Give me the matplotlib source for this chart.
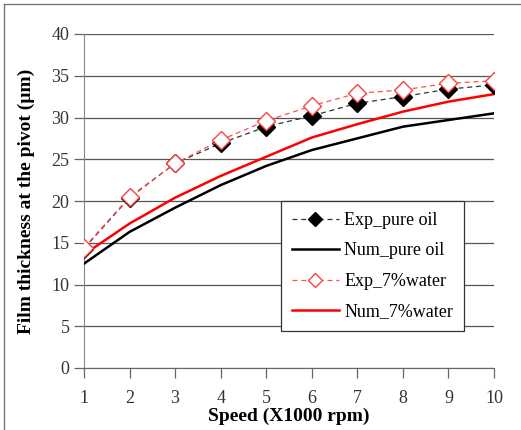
import matplotlib.pyplot as plt
from matplotlib.lines import Line2D

speed = [1, 2, 3, 4, 5, 6, 7, 8, 9, 10]
exp_oil = [14.3, 20.4, 24.5, 26.9, 28.9, 30.2, 31.7, 32.5, 33.4, 33.9]
num_oil = [12.5, 16.3, 19.2, 21.9, 24.2, 26.1, 27.5, 28.9, 29.7, 30.5]
exp_water = [14.4, 20.5, 24.5, 27.3, 29.6, 31.4, 32.9, 33.3, 34.1, 34.4]
num_water = [13.6, 17.3, 20.4, 23.0, 25.3, 27.6, 29.2, 30.7, 31.9, 32.8]

plt.rcParams['font.family'] = ['Liberation Serif', 'DejaVu Serif']

fig = plt.figure(figsize=(5.21, 4.30), dpi=100)
ax = fig.add_axes([84 / 521, 1 - 368 / 430, 410 / 521, 334 / 430])

ax.plot(speed, exp_oil, color='#333333', lw=0.9, dashes=(4, 3), marker='D',
        ms=9, mfc='black', mec='black', label='Exp_pure oil', zorder=4)
ax.plot(speed, num_oil, color='black', lw=1.8, label='Num_pure oil', zorder=3)
ax.plot(speed, exp_water, color='#ff5050', lw=0.9, dashes=(4, 3), marker='D',
        ms=9, mfc='white', mec='#ff4040', mew=1.0, label='Exp_7%water', zorder=5)
ax.plot(speed, num_water, color='#ff0000', lw=1.8, label='Num_7%water', zorder=3)

ax.set_xlim(1, 10)
ax.set_ylim(0, 40)
ax.set_xticks(range(1, 11))
ax.set_yticks(range(0, 41, 5))
ax.yaxis.grid(True, color='#555555', lw=0.9)
ax.set_axisbelow(True)
for s in ('top', 'right'):
    ax.spines[s].set_visible(False)
ax.spines['left'].set_color('#888888')
ax.spines['bottom'].set_color('#666666')
ax.tick_params(axis='both', labelsize=13, colors='#666666', labelcolor='#333333',
               length=7, width=0.9, direction='out')
ax.tick_params(axis='x', pad=9)

ax.set_ylabel('Film thickness at the pivot (µm)', fontsize=14, fontweight='bold',
              labelpad=12)
ax.set_xlabel('Speed (X1000 rpm)', fontsize=14, fontweight='bold', labelpad=0)

leg = ax.legend(loc='upper left', bbox_to_anchor=((281 - 84) / 410, (368 - 201) / 334),
                fontsize=13, frameon=True, fancybox=False, handlelength=2.6,
                labelspacing=0.75, borderpad=0.6, handletextpad=0.3,
                borderaxespad=0, markerscale=0.75)
leg.get_frame().set_edgecolor('#333333')
leg.get_frame().set_linewidth(0.9)
leg.get_frame().set_alpha(1)

fig.add_artist(Line2D([4 / 521, 4 / 521], [0, 1 - 4 / 430], color='#777777', lw=1))
fig.add_artist(Line2D([4 / 521, 1], [1 - 4 / 430, 1 - 4 / 430], color='#777777', lw=1))

fig.savefig('out.png', dpi=100)
